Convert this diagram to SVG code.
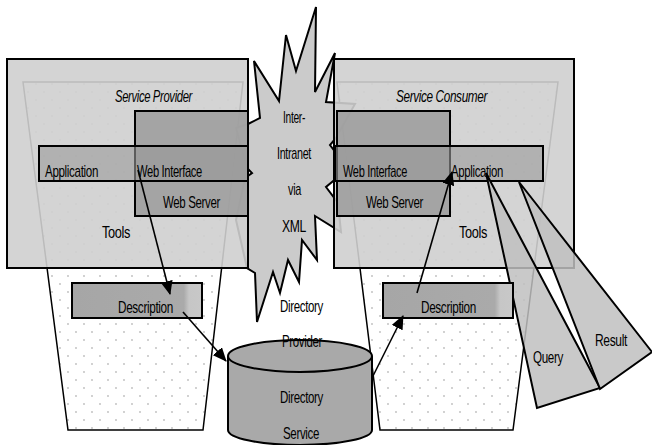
<svg xmlns="http://www.w3.org/2000/svg" width="652" height="445" viewBox="0 0 652 445">
<defs>
<pattern id="dots" width="16" height="16" patternUnits="userSpaceOnUse">
<rect width="16" height="16" fill="#ffffff"/>
<circle cx="4" cy="4" r="0.9" fill="#bdbdbd"/>
<circle cx="12" cy="12" r="0.9" fill="#bdbdbd"/>
</pattern>
<linearGradient id="descg" x1="0" y1="0" x2="1" y2="0">
<stop offset="0" stop-color="#a6a6a6"/>
<stop offset="0.86" stop-color="#aaaaaa"/>
<stop offset="0.9" stop-color="#c6c6c6"/>
<stop offset="1" stop-color="#c8c8c8"/>
</linearGradient>
<marker id="ah" markerWidth="14" markerHeight="12" refX="13" refY="6" orient="auto" markerUnits="userSpaceOnUse">
<path d="M0,0 L14,6 L0,12 Z" fill="#000"/>
</marker>
<style>
.trap{fill:url(#dots);stroke:#000;stroke-width:1.5}
.main{fill:#cfcfcf;fill-opacity:0.9;stroke:#000;stroke-width:2}
.srv{fill:#9f9f9f;fill-opacity:0.9;stroke:#000;stroke-width:2}
.bar{fill:#9a9a9a;fill-opacity:0.6;stroke:#000;stroke-width:2}
.wedge{fill:#bfbfbf;fill-opacity:0.85;stroke:#000;stroke-width:2}
.desc{fill:url(#descg);stroke:#000;stroke-width:2}
.star{fill:#cbcbcb;stroke:#000;stroke-width:2;stroke-linejoin:miter}
.cyl{fill:#a9a9a9;stroke:#000;stroke-width:2}
.conn{stroke:#000;stroke-width:1.6;fill:none;marker-end:url(#ah)}
text{font-family:"Liberation Sans",Arial,sans-serif;font-size:17px;fill:#000;letter-spacing:-0.5px}
.it{font-style:italic;font-size:16px}
</style>
</defs>
<g id="provider-scope">
<polygon class="trap" points="23,82 243,82 203,430 68,430"/>
</g>
<g id="consumer-scope">
<polygon class="trap" points="337,82 558,82 513,430 380,430"/>
</g>
<g id="internet">
<polygon class="star" points="248,124 260,118 254,61 279,101 286,35 296,71 316,7 315,92 335,53 326,102 355,104 336,138 330,145 336,153 338,177 326,187 338,203 341,232 315,216 317,260 302,240 299,282 288,260 280,293 273,272 257,322 255,273 247,268 236,220 245,178 252,173 247,168 236,128"/>
<text x="283" y="123" textLength="22" lengthAdjust="spacingAndGlyphs">Inter-</text>
<text x="277" y="159" textLength="34" lengthAdjust="spacingAndGlyphs">Intranet</text>
<text x="288" y="195" textLength="13" lengthAdjust="spacingAndGlyphs">via</text>
<text x="282" y="232" textLength="24" lengthAdjust="spacingAndGlyphs">XML</text>
</g>
<g id="service-provider">
<rect class="main" x="7" y="59" width="241" height="209"/>
<text class="it" x="115" y="102" textLength="77" lengthAdjust="spacingAndGlyphs">Service Provider</text>
<rect class="srv" x="135" y="111" width="113" height="105"/>
<rect class="bar" x="39" y="146" width="209" height="35"/>
<text x="45" y="177" textLength="53" lengthAdjust="spacingAndGlyphs">Application</text>
<text x="137" y="177" textLength="65" lengthAdjust="spacingAndGlyphs">Web Interface</text>
<text x="163" y="208" textLength="57" lengthAdjust="spacingAndGlyphs">Web Server</text>
<text x="102" y="238" textLength="28" lengthAdjust="spacingAndGlyphs">Tools</text>
</g>
<g id="service-consumer">
<rect class="main" x="334" y="59" width="240" height="209"/>
<text class="it" x="396" y="102" textLength="91" lengthAdjust="spacingAndGlyphs">Service Consumer</text>
<rect class="srv" x="337" y="111" width="113" height="105"/>
<rect class="bar" x="335" y="146" width="208" height="35"/>
<text x="343" y="177" textLength="64" lengthAdjust="spacingAndGlyphs">Web Interface</text>
<text x="451" y="177" textLength="52" lengthAdjust="spacingAndGlyphs">Application</text>
<text x="366" y="208" textLength="57" lengthAdjust="spacingAndGlyphs">Web Server</text>
<text x="459" y="238" textLength="28" lengthAdjust="spacingAndGlyphs">Tools</text>
</g>
<g id="query">
<polygon class="wedge" points="486,173 537,408 600,388"/>
<text x="533" y="363" textLength="30" lengthAdjust="spacingAndGlyphs">Query</text>
</g>
<g id="result">
<polygon class="wedge" points="519,182 600,389 652,352"/>
<text x="595" y="346" textLength="32" lengthAdjust="spacingAndGlyphs">Result</text>
</g>
<g id="description-provider">
<rect class="desc" x="72" y="283" width="130" height="35"/>
<text x="118" y="313" textLength="55" lengthAdjust="spacingAndGlyphs">Description</text>
</g>
<g id="description-consumer">
<rect class="desc" x="383" y="283" width="130" height="35"/>
<text x="421" y="313" textLength="55" lengthAdjust="spacingAndGlyphs">Description</text>
</g>
<g id="directory-service">
<path class="cyl" d="M228,356 L228,430 A72,15 0 0 0 372,430 L372,356 A72,16 0 0 0 228,356 Z"/>
<path d="M228,356 A72,16 0 0 0 372,356" fill="none" stroke="#000" stroke-width="2"/>
<text x="280" y="312" textLength="43" lengthAdjust="spacingAndGlyphs">Directory</text>
<text x="282" y="347" textLength="40" lengthAdjust="spacingAndGlyphs">Provider</text>
<text x="280" y="403" textLength="43" lengthAdjust="spacingAndGlyphs">Directory</text>
<text x="283" y="439" textLength="36" lengthAdjust="spacingAndGlyphs">Service</text>
</g>
<g id="connectors">
<line class="conn" x1="138" y1="170" x2="170" y2="294"/>
<line class="conn" x1="183" y1="312" x2="226" y2="361"/>
<line class="conn" x1="372" y1="378" x2="403" y2="316"/>
<line class="conn" x1="417" y1="293" x2="452" y2="172"/>
</g>
</svg>
